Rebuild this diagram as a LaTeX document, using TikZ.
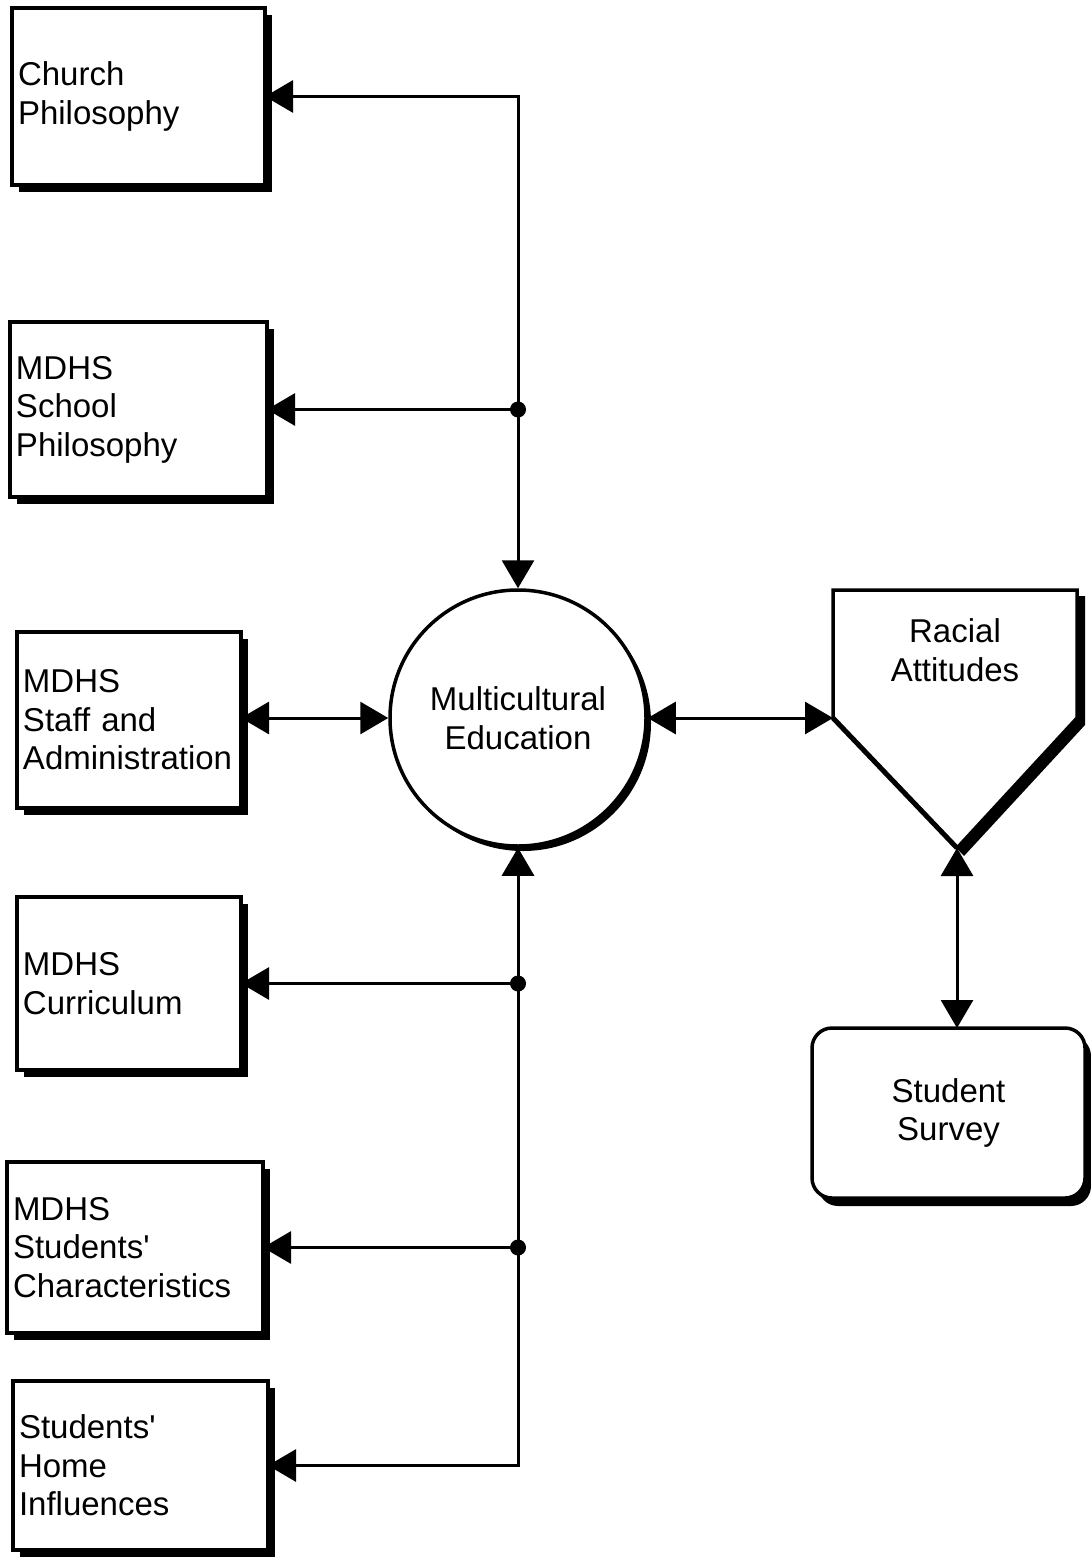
\documentclass[tikz,border=0pt]{standalone}
\usepackage{fontspec}
\setmainfont{Liberation Sans}
\usetikzlibrary{positioning,arrows.meta,shadows}

\begin{document}
\begin{tikzpicture}[x=1pt, y=-1pt,
    font=\fontsize{33}{38.5}\selectfont,
    box/.style 2 args={draw, line width=3.5pt, fill=white, rectangle, align=left,
        inner xsep=6pt, inner ysep=0pt, outer sep=0pt, text width=#1, minimum height=#2,
        drop shadow={shadow xshift=7pt, shadow yshift=-7pt, fill=black, opacity=1}},
    arr/.style={-{Triangle[length=28pt,width=32pt]}, line width=3pt},
    darr/.style={{Triangle[length=28pt,width=32pt]}-{Triangle[length=28pt,width=32pt]}, line width=3pt},
    dot/.style={fill=black}]

    \useasboundingbox (0,0) rectangle (1091,1557);

    \node (church) [box={241pt}{177pt}, anchor=north west] at (12,8) {Church\\Philosophy};
    \node (school) [box={245pt}{175pt}, below=137pt of church.south west, anchor=north west, xshift=-2pt] {MDHS\\School\\Philosophy};
    \node (staff) [box={212pt}{176pt}, below=135pt of school.south west, anchor=north west, xshift=7pt] {MDHS\\Staff and\\Administration};
    \node (curr) [box={212pt}{173pt}, below=89pt of staff.south west, anchor=north west] {MDHS\\Curriculum};
    \node (chars) [box={244pt}{171pt}, below=92pt of curr.south west, anchor=north west, xshift=-10pt] {MDHS\\Students\textquotesingle\\Characteristics};
    \node (home) [box={243pt}{169pt}, below=48pt of chars.south west, anchor=north west, xshift=6pt] {Students\textquotesingle\\Home\\Influences};

    \node (edu) [circle, draw, line width=3.5pt, fill=white, minimum size=256pt, align=center,
        drop shadow={shadow xshift=5pt, shadow yshift=-5pt, fill=black, opacity=1}] at (518,718) {Multicultural\\Education};

    \coordinate (rnw) at (833,590);
    \coordinate (rne) at (1077,590);
    \coordinate (rse) at (1077,718);
    \coordinate (rs) at (957,848);
    \coordinate (rw) at (833,718);
    \fill (841,596) -- (1085,596) -- (1085,725) -- (964,856) -- (839,725) -- cycle;
    \draw[line width=3.5pt, fill=white, line join=miter] (rnw) -- (rne) -- (rse) -- (rs) -- (rw) -- cycle;
    \draw[line width=5pt] (rw) -- (rs);
    \node (racial) [align=center] at (955,650) {Racial\\Attitudes};

    \node (survey) [draw, line width=3.5pt, fill=white, rounded corners=20pt, align=center,
        minimum width=273pt, minimum height=170pt, outer sep=0pt, below=180pt of rs, xshift=-8.5pt,
        drop shadow={shadow xshift=6pt, shadow yshift=-8pt, fill=black, opacity=1}] {Student\\Survey};

    \draw[darr] (church.east) -| (edu.north);
    \draw[darr] (home.east) -| (edu.south);
    \path[arr] (edu.north |- school.east) edge (school.east);
    \path[arr] (edu.south |- curr.east) edge (curr.east);
    \path[arr] (edu.south |- chars.east) edge (chars.east);
    \path[darr] (edu.west -| staff.east) edge (edu.west);
    \path[darr] (edu.east) edge (rw);
    \path[darr] (rs) edge (rs |- survey.north);

    \fill[dot] (edu.north |- school.east) circle (8pt);
    \fill[dot] (edu.south |- curr.east) circle (8pt);
    \fill[dot] (edu.south |- chars.east) circle (8pt);

\end{tikzpicture}
\end{document}
